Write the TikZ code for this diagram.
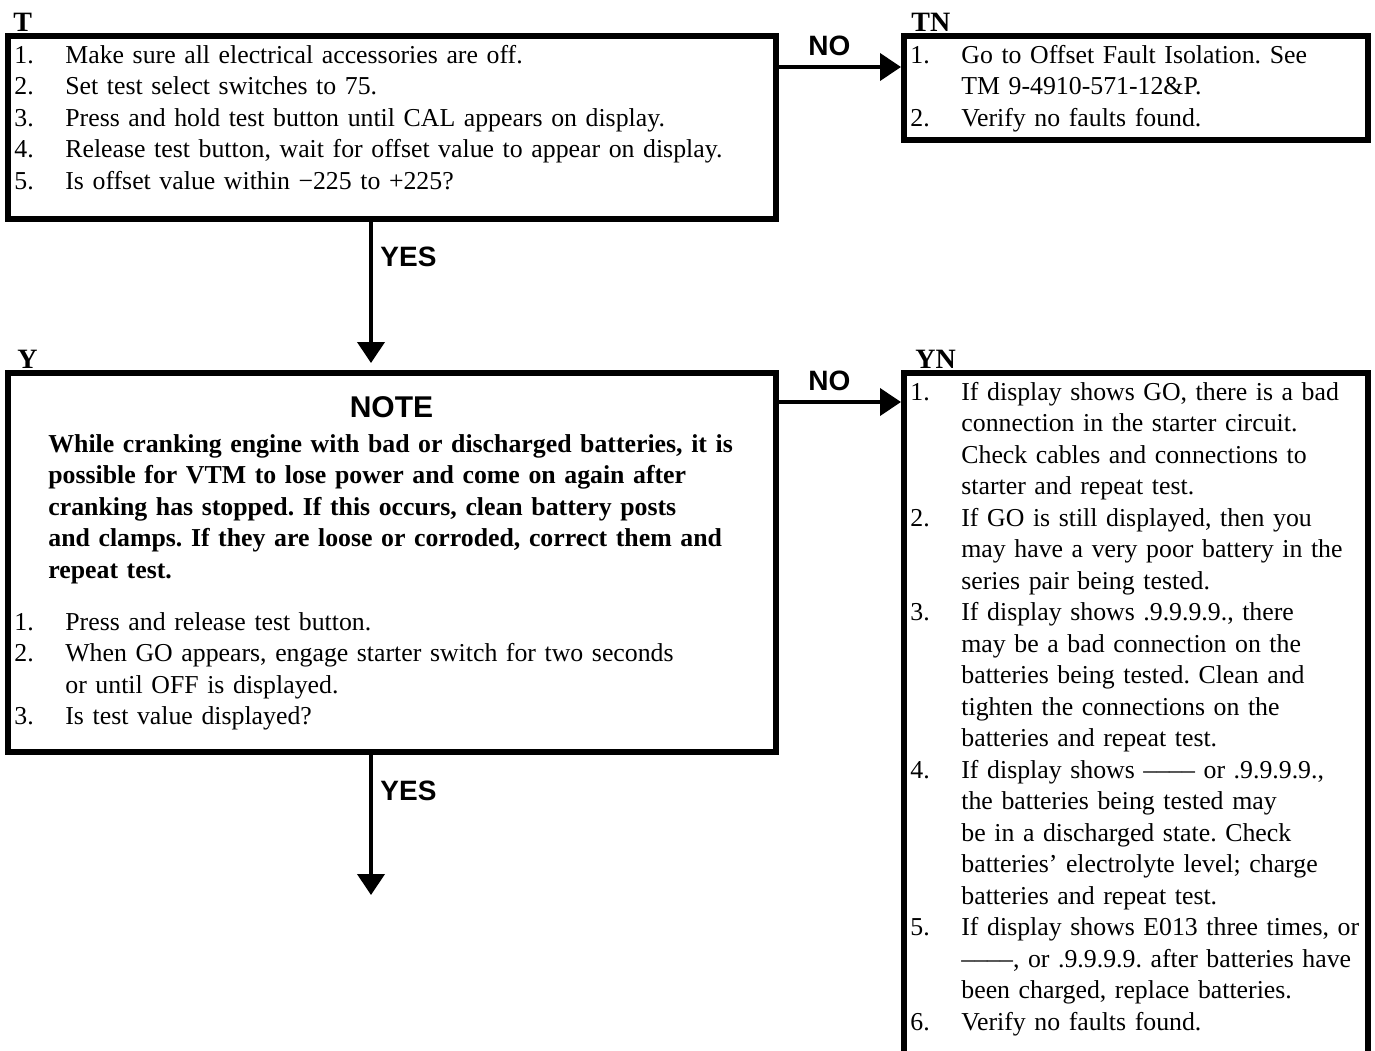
\documentclass[tikz,border=0pt]{standalone}
\usepackage{fontspec}
\setmainfont{Liberation Serif}
\newfontfamily\answerfont{Liberation Sans}
\usetikzlibrary{arrows.meta}
\frenchspacing

% one numbered step, hanging indent for its wrapped lines
\newcommand{\stepitem}[2]{\noindent\hangindent=25.5pt\hangafter=1\makebox[25.5pt][l]{#1}#2\par}

\tikzset{
    box/.style={draw, line width=3pt, anchor=north west, inner sep=0pt, outer sep=0pt},
    steptext/.style={anchor=base west, inner sep=0pt, text width=#1,
        font=\fontsize{12.9}{15.75}\selectfont},
    tag/.style={anchor=base west, inner sep=0pt, font=\fontsize{14}{16}\selectfont\bfseries},
    answer/.style={anchor=base west, inner sep=0pt, font=\answerfont\fontsize{14}{16}\selectfont\bfseries},
    flow/.style={line width=2pt, -{Triangle[length=10.5pt,width=13.5pt]}},
}

\begin{document}
\begin{tikzpicture}[x=0.5pt, y=-0.5pt]
    \useasboundingbox (0,0) rectangle (1375,1050);
    % The four boxes.
        \node[box, minimum width=384pt, minimum height=91.5pt] (Tbox) at (7.5,36) {};
        \node[box, minimum width=232pt, minimum height=52pt] (TNbox) at (904,36) {};
        \node[box, minimum width=384pt, minimum height=189.5pt] (Ybox) at (7.5,373) {};
        \node[box, minimum width=232pt, minimum height=400pt] (YNbox) at (904,373) {};
    % Below nodes are the box titles.
        \node[tag] (Ttag) at (13,31) {T};
        \node[tag] (TNtag) at (911,31) {TN};
        \node[tag] (Ytag) at (17,368) {Y};
        \node[tag] (YNtag) at (915,368) {YN};
    % The steps in each box.
        \node[steptext=380pt] (Ttext) at (14,63) {%
            \stepitem{1.}{Make sure all electrical accessories are off.}
            \stepitem{2.}{Set test select switches to 75.}
            \stepitem{3.}{Press and hold test button until CAL appears on display.}
            \stepitem{4.}{Release test button, wait for offset value to appear on display.}
            \stepitem{5.}{Is offset value within \textminus225 to +225?}};
        \node[steptext=260pt] (TNtext) at (910,63) {%
            \stepitem{1.}{Go to Offset Fault Isolation. See\newline TM 9-4910-571-12\&P.}
            \stepitem{2.}{Verify no faults found.}};
        \node[anchor=base, inner sep=0pt, font=\answerfont\fontsize{15}{17}\selectfont\bfseries]
            (Ynote) at (391.5,417) {NOTE};
        \node[steptext=380pt, font=\fontsize{12.9}{15.75}\selectfont\bfseries] (Ywarn) at (48,452) {%
            While cranking engine with bad or discharged batteries, it is\\
            possible for VTM to lose power and come on again after\\
            cranking has stopped. If this occurs, clean battery posts\\
            and clamps. If they are loose or corroded, correct them and\\
            repeat test.};
        \node[steptext=380pt] (Ytext) at (14,630) {%
            \stepitem{1.}{Press and release test button.}
            \stepitem{2.}{When GO appears, engage starter switch for two seconds\newline or until OFF is displayed.}
            \stepitem{3.}{Is test value displayed?}};
        \node[steptext=260pt] (YNtext) at (910,400) {%
            \stepitem{1.}{If display shows GO, there is a bad\newline connection in the starter circuit.\newline Check cables and connections to\newline starter and repeat test.}
            \stepitem{2.}{If GO is still displayed, then you\newline may have a very poor battery in the\newline series pair being tested.}
            \stepitem{3.}{If display shows .9.9.9.9., there\newline may be a bad connection on the\newline batteries being tested. Clean and\newline tighten the connections on the\newline batteries and repeat test.}
            \stepitem{4.}{If display shows \textendash\textendash\textendash\textendash{} or .9.9.9.9.,\newline the batteries being tested may\newline be in a discharged state. Check\newline batteries' electrolyte level; charge\newline batteries and repeat test.}
            \stepitem{5.}{If display shows E013 three times, or\newline \textendash\textendash\textendash\textendash, or .9.9.9.9. after batteries have\newline been charged, replace batteries.}
            \stepitem{6.}{Verify no faults found.}};
    % The arrows and their answers.
        \coordinate (Yend) at (371,895);
        \draw[flow, shorten >=1.5pt] ([yshift=-15.5pt]Tbox.north east) -- ([yshift=-15.5pt]TNbox.north west);
        \draw[flow, shorten >=5pt] ([xshift=-10.25pt]Tbox.south) -- ([xshift=-10.25pt]Ybox.north);
        \draw[flow, shorten >=1.5pt] ([yshift=-14.5pt]Ybox.north east) -- ([yshift=-14.5pt]YNbox.north west);
        \draw[flow] ([xshift=-10.25pt]Ybox.south) -- (Yend);
        \node[answer] (Tno) at (808,55) {NO};
        \node[answer] (Tyes) at (380,266) {YES};
        \node[answer] (Yno) at (808,390) {NO};
        \node[answer] (Yyes) at (380,800) {YES};
\end{tikzpicture}
\end{document}
